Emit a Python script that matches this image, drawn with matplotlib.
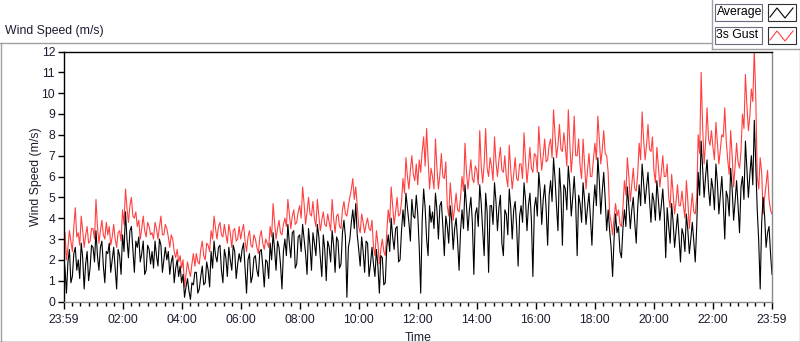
import matplotlib.pyplot as plt
import numpy as np
from matplotlib.lines import Line2D
from matplotlib.patches import Rectangle

# samples every 3 minutes over the day (one row = half an hour)
minutes = np.arange(0, 1441, 3)

avg_speed = [
    2.2, 1.6, 0.4, 1.9, 2.5, 0.9, 1.2, 2.3, 2.6, 1.5,
    2.0, 1.1, 2.8, 2.1, 0.6, 1.8, 2.4, 1.0, 1.6, 2.7,
    2.6, 1.9, 3.4, 2.2, 1.5, 2.6, 2.9, 1.7, 0.9, 2.4,
    2.3, 2.8, 1.4, 2.0, 2.6, 1.6, 0.6, 2.5, 2.2, 1.3,
    3.2, 2.4, 4.3, 3.0, 2.1, 3.4, 3.6, 2.5, 1.4, 2.9,
    2.6, 3.1, 1.9, 2.3, 2.9, 1.3, 1.5, 2.7, 2.5, 1.8,
    2.4, 1.6, 2.9, 2.2, 1.7, 3.0, 2.7, 1.4, 2.0, 2.6,
    2.0, 2.4, 1.3, 1.9, 2.2, 0.9, 1.6, 2.0, 1.2, 1.7,
    0.9, 1.3, 0.2, 0.7, 1.1, 0.5, 0.1, 0.9, 0.8, 1.4,
    1.4, 0.4, 0.6, 1.2, 1.7, 0.8, 0.9, 1.9, 1.5, 0.7,
    2.4, 1.6, 2.9, 2.2, 1.9, 2.6, 2.7, 1.5, 0.9, 2.5,
    2.1, 1.2, 2.6, 2.0, 1.5, 2.7, 2.4, 1.1, 1.8, 2.3,
    1.9, 2.5, 2.8, 1.6, 0.4, 2.0, 2.3, 0.9, 1.2, 2.1,
    2.2, 1.5, 1.2, 2.4, 2.5, 1.7, 0.7, 2.0, 1.9, 1.1,
    2.8, 2.0, 3.3, 2.5, 1.5, 2.9, 2.6, 1.8, 0.6, 2.4,
    3.0, 2.2, 3.7, 2.8, 2.1, 3.3, 3.4, 1.6, 1.8, 3.1,
    3.2, 2.4, 3.7, 3.0, 2.3, 1.3, 3.5, 2.7, 1.5, 3.3,
    2.8, 2.2, 3.7, 3.1, 2.1, 1.2, 3.2, 2.5, 1.0, 2.9,
    2.6, 1.9, 3.4, 2.7, 1.4, 3.1, 2.9, 1.6, 1.8, 3.3,
    3.9, 3.1, 0.2, 2.6, 3.0, 3.8, 4.4, 3.5, 4.7, 3.2,
    2.5, 1.7, 3.1, 2.4, 1.4, 2.9, 2.8, 1.2, 1.8, 2.6,
    1.8, 1.2, 2.5, 1.7, 0.4, 2.2, 2.1, 0.8, 0.9, 2.6,
    3.2, 2.4, 4.0, 3.1, 2.5, 3.5, 3.6, 1.9, 2.0, 3.4,
    4.4, 3.6, 5.2, 4.5, 3.8, 2.9, 4.9, 4.1, 4.0, 5.1,
    4.2, 2.6, 0.4, 3.9, 5.4, 4.5, 3.0, 2.2, 4.6, 3.8,
    4.3, 3.5, 5.2, 4.4, 3.0, 4.6, 4.8, 3.6, 2.2, 4.1,
    3.6, 2.8, 4.6, 3.9, 2.5, 3.5, 4.0, 2.9, 1.5, 3.4,
    4.4, 3.5, 5.6, 4.6, 3.4, 4.4, 5.0, 3.8, 1.3, 4.2,
    4.5, 3.6, 5.6, 4.7, 3.4, 2.2, 5.2, 4.3, 1.4, 4.6,
    4.6, 3.7, 5.7, 4.8, 3.4, 4.5, 5.1, 2.8, 2.2, 4.4,
    4.2, 3.2, 5.4, 4.5, 3.0, 4.4, 4.8, 3.6, 1.7, 4.1,
    4.6, 3.8, 5.7, 4.9, 3.4, 4.6, 5.2, 3.9, 1.2, 4.5,
    5.0, 4.1, 6.2, 5.3, 3.7, 4.9, 5.6, 4.4, 2.7, 5.1,
    5.8, 4.8, 6.9, 5.9, 4.6, 3.4, 6.4, 5.2, 2.7, 5.6,
    5.4, 4.4, 6.5, 5.6, 4.1, 5.0, 6.0, 4.7, 2.2, 5.1,
    4.7, 3.8, 5.7, 4.9, 3.7, 4.5, 5.2, 4.0, 2.7, 4.6,
    5.6, 4.6, 6.9, 5.8, 4.2, 5.3, 6.2, 4.9, 3.4, 4.4,
    3.4, 2.6, 1.2, 3.0, 4.2, 3.3, 3.6, 2.4, 2.1, 3.5,
    4.4, 3.6, 5.5, 4.6, 3.5, 4.4, 5.0, 3.8, 2.8, 4.5,
    5.6, 4.6, 6.6, 5.7, 4.7, 5.5, 6.2, 4.9, 3.8, 5.2,
    4.8, 3.9, 5.8, 4.9, 3.9, 4.6, 5.4, 4.2, 2.1, 4.5,
    3.6, 2.8, 4.7, 3.8, 2.6, 3.4, 4.2, 3.1, 1.9, 3.5,
    3.2, 2.4, 4.2, 3.4, 2.3, 3.0, 3.8, 2.9, 1.9, 3.6,
    6.2, 5.1, 7.7, 6.4, 5.0, 6.0, 6.8, 5.4, 4.6, 5.9,
    5.4, 4.4, 6.6, 5.7, 4.2, 5.1, 6.0, 4.7, 3.0, 5.3,
    5.0, 4.1, 6.4, 5.4, 3.9, 4.8, 5.8, 4.6, 3.3, 5.5,
    6.0, 4.9, 7.7, 6.3, 5.0, 6.1, 7.0, 5.6, 8.7, 6.5,
    4.4, 2.9, 0.6, 3.8, 5.0, 4.1, 2.6, 3.3, 3.6, 2.3,
    1.3,
]

gust_speed = [
    2.8, 3.3, 2.0, 2.6, 3.4, 2.9, 2.4, 3.6, 4.5, 3.1,
    3.3, 2.7, 4.1, 3.4, 2.6, 3.2, 3.6, 2.8, 2.9, 3.5,
    3.5, 3.0, 4.9, 3.6, 2.8, 3.4, 3.9, 3.2, 3.0, 3.8,
    3.2, 3.6, 2.7, 3.1, 3.7, 3.0, 2.6, 3.3, 3.4, 2.9,
    4.4, 3.7, 5.4, 4.5, 3.8, 4.6, 5.0, 4.1, 4.0, 4.3,
    3.6, 3.9, 3.0, 3.5, 4.1, 3.4, 3.1, 3.8, 3.6, 3.2,
    3.3, 3.0, 3.8, 3.5, 3.0, 3.6, 4.1, 3.2, 3.2, 3.7,
    3.5, 3.1, 2.6, 3.2, 3.0, 2.4, 2.1, 2.5, 1.9, 2.2,
    1.6, 2.0, 0.7, 1.3, 1.9, 1.5, 1.2, 1.8, 2.3, 1.7,
    2.3, 1.9, 1.8, 2.5, 2.9, 2.2, 2.0, 2.8, 2.7, 2.4,
    3.4, 3.0, 4.1, 3.5, 3.0, 3.6, 3.8, 3.2, 3.1, 3.7,
    3.2, 2.8, 3.7, 3.3, 2.6, 3.4, 3.5, 2.9, 3.0, 3.6,
    3.0, 3.4, 3.7, 2.9, 2.4, 3.1, 3.4, 2.7, 2.6, 3.2,
    3.0, 2.6, 2.3, 3.1, 3.4, 2.8, 2.5, 3.0, 2.8, 2.6,
    3.6, 3.1, 4.7, 3.8, 3.0, 3.5, 3.9, 3.3, 3.2, 3.7,
    4.0, 3.6, 4.9, 4.2, 3.5, 4.1, 4.4, 3.7, 3.8, 4.3,
    4.6, 4.0, 5.5, 4.7, 3.7, 4.3, 5.0, 4.2, 4.1, 4.8,
    4.0, 3.6, 4.9, 4.1, 3.4, 3.9, 4.3, 3.7, 3.6, 4.2,
    3.8, 3.4, 4.9, 4.0, 3.3, 4.1, 4.2, 3.6, 3.5, 4.4,
    4.8, 4.2, 4.1, 4.6, 5.0, 5.4, 5.9, 4.9, 5.5, 4.6,
    3.6, 3.3, 4.2, 3.8, 3.3, 3.7, 4.0, 3.5, 3.4, 3.9,
    2.6, 2.2, 3.4, 2.8, 1.8, 2.5, 3.0, 2.4, 2.2, 3.3,
    4.4, 3.8, 5.5, 4.6, 3.7, 4.3, 5.0, 4.1, 4.2, 4.8,
    5.9, 5.2, 6.9, 6.0, 5.4, 6.3, 7.0, 6.1, 5.8, 6.6,
    5.6, 6.8, 6.2, 7.2, 7.9, 6.5, 8.3, 6.9, 5.4, 6.4,
    6.0, 5.4, 7.8, 6.4, 5.4, 6.1, 7.1, 6.0, 5.9, 6.7,
    4.6, 4.1, 5.7, 4.8, 3.9, 4.5, 5.2, 4.4, 4.3, 5.0,
    6.0, 5.3, 7.6, 6.2, 5.4, 6.1, 6.8, 5.9, 5.7, 6.5,
    6.3, 5.6, 8.2, 6.5, 5.7, 6.6, 8.3, 6.4, 6.0, 6.9,
    6.5, 5.8, 7.9, 6.7, 6.0, 6.8, 7.4, 6.3, 6.2, 7.0,
    6.0, 5.5, 7.5, 6.3, 5.4, 6.1, 6.9, 5.9, 5.8, 6.6,
    6.6, 5.9, 8.1, 6.8, 5.7, 6.5, 7.4, 6.4, 6.2, 7.1,
    7.0, 6.2, 8.4, 7.2, 6.3, 7.0, 7.8, 6.7, 6.8, 7.5,
    7.8, 6.9, 9.2, 8.0, 6.9, 7.5, 8.5, 7.3, 7.2, 8.1,
    7.4, 6.5, 9.2, 7.6, 6.2, 7.2, 8.9, 7.0, 7.0, 7.8,
    6.5, 5.9, 7.8, 6.6, 5.4, 6.3, 7.1, 6.0, 6.0, 6.8,
    7.6, 6.8, 8.9, 7.8, 6.6, 7.3, 8.2, 7.1, 7.0, 6.2,
    4.2, 3.8, 3.2, 4.0, 4.7, 4.1, 4.4, 3.7, 3.6, 4.5,
    5.8, 5.1, 6.9, 6.0, 4.8, 5.6, 6.4, 5.4, 5.3, 6.1,
    7.6, 6.8, 9.1, 7.8, 6.8, 7.5, 8.5, 7.3, 7.2, 7.9,
    6.3, 5.7, 7.4, 6.5, 5.5, 6.2, 7.0, 6.0, 6.0, 6.6,
    5.0, 4.5, 6.1, 5.2, 4.2, 4.8, 5.6, 4.6, 4.6, 5.3,
    4.6, 4.0, 5.8, 4.8, 3.5, 4.4, 5.2, 4.3, 4.2, 5.0,
    8.0, 7.1, 11.0, 8.4, 6.6, 7.6, 9.3, 7.8, 7.5, 8.2,
    7.4, 6.8, 8.6, 7.6, 6.6, 7.3, 8.0, 7.9, 9.3, 7.7,
    6.8, 6.1, 8.2, 7.0, 5.5, 6.5, 7.6, 6.7, 6.4, 7.2,
    9.0, 8.3, 10.9, 9.4, 8.2, 8.9, 10.2, 9.6, 12.1, 9.8,
    6.0, 5.4, 6.9, 6.2, 4.2, 5.0, 5.6, 6.3, 4.9, 4.4,
    4.2,
]

tick_hours = list(range(0, 25, 2))
tick_labels = ["23:59", "02:00", "04:00", "06:00", "08:00", "10:00", "12:00",
               "14:00", "16:00", "18:00", "20:00", "22:00", "23:59"]

plt.rcParams['font.family'] = ['Liberation Sans', 'DejaVu Sans']
W, H = 800, 342
txt = '#1c1c30'
fs = 8.8

def fx(x):
    return x / W

def fy(y):
    return 1 - y / H

fig = plt.figure(figsize=(W / 100, H / 100), dpi=100)
ax = fig.add_axes([fx(63.5), fy(301.5), 708.5 / W, 250 / H])

hours = minutes / 60
ax.plot(hours, gust_speed, color='#ff4040', lw=0.8)
ax.plot(hours, avg_speed, color='black', lw=0.8)

ax.set_xlim(0, 24)
ax.set_ylim(0, 12)
ax.set_yticks(range(0, 13))
ax.set_xticks(tick_hours)
ax.set_xticklabels(tick_labels)
ax.set_xticks(np.arange(0, 24, 2 / 7), minor=True)
ax.tick_params(axis='both', which='major', direction='out', length=4, width=1,
               labelsize=fs, labelcolor=txt, color='black', pad=2)
ax.tick_params(axis='x', which='major', length=5, pad=4)
ax.tick_params(axis='x', which='minor', direction='out', length=3, width=1, color='black')
ax.spines['top'].set_color('black')
ax.spines['left'].set_color('black')
ax.spines['right'].set_color('#8a8a8a')
ax.spines['bottom'].set_color('#8a8a8a')
for s in ax.spines.values():
    s.set_linewidth(1)

ax.set_xlabel("Time", fontsize=fs, color=txt, labelpad=4)
ax.set_ylabel("Wind Speed (m/s)", fontsize=fs, color=txt, labelpad=0)

# outer panel frame
grey = '#a0a0a0'
fig.add_artist(Line2D([fx(0), fx(712)], [fy(42.5), fy(42.5)], color=grey, lw=1))
fig.add_artist(Line2D([fx(0.5), fx(0.5)], [fy(42.5), fy(342)], color=grey, lw=1))
fig.add_artist(Line2D([fx(0), fx(800)], [fy(341.5), fy(341.5)], color='#404040', lw=1))
fig.add_artist(Line2D([fx(799.5), fx(799.5)], [fy(48), fy(342)], color=grey, lw=1))
fig.add_artist(Line2D([fx(712), fx(712)], [fy(0), fy(48.5)], color=grey, lw=1))
fig.add_artist(Line2D([fx(712), fx(800)], [fy(48.5), fy(48.5)], color=grey, lw=1))

fig.text(fx(5), fy(31), "Wind Speed (m/s)", fontsize=fs, color=txt, va='center', ha='left')

# legend (label box + line sample box)
legend_names = ["Average", "3s Gust"]
legend_colors = ['black', '#ff4040']
for i, (name, col) in enumerate(zip(legend_names, legend_colors)):
    top = 4 + i * 23
    fig.add_artist(Rectangle((fx(714.5), fy(top + 17)), 47 / W, 17 / H,
                             transform=fig.transFigure, facecolor='white',
                             edgecolor='#6a6a80', lw=0.8))
    fig.text(fx(716.5), fy(top + 8.5), name, fontsize=fs, color='black',
             va='center', ha='left')
    fig.add_artist(Rectangle((fx(767.5), fy(top + 17)), 28 / W, 17 / H,
                             transform=fig.transFigure, facecolor='white',
                             edgecolor='#303030', lw=0.8))
    zx = [770, 777, 785, 793]
    zy = [top + 13, top + 4, top + 14, top + 4]
    fig.add_artist(Line2D([fx(v) for v in zx], [fy(v) for v in zy], color=col, lw=0.8))

fig.savefig("out.png", dpi=100)
